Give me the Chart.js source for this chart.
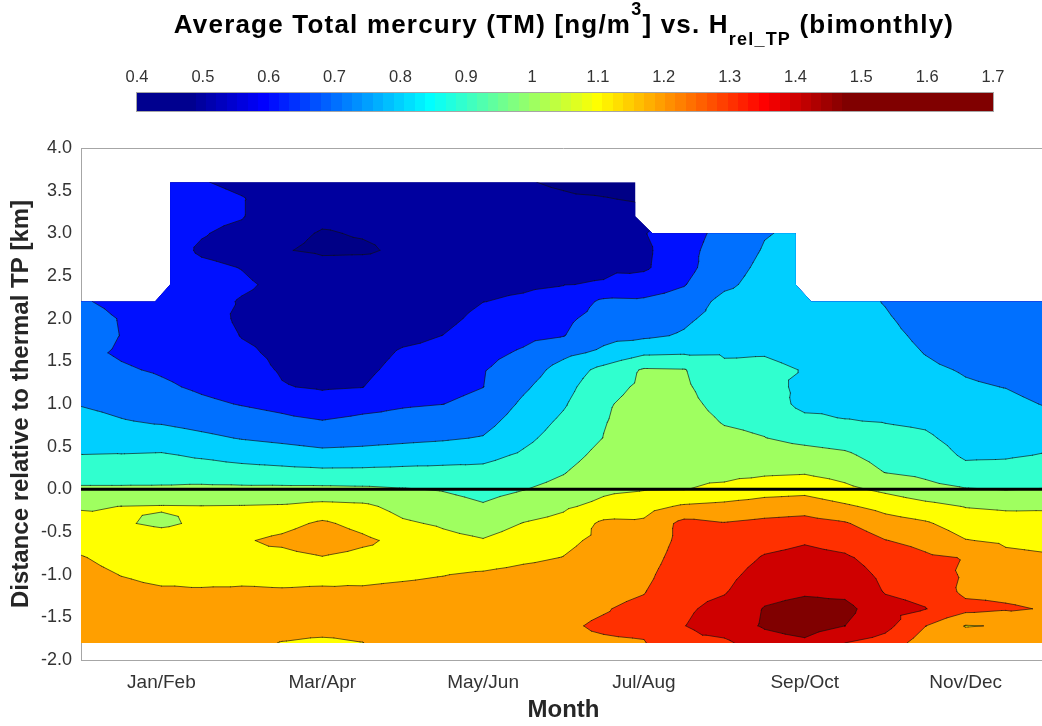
<!DOCTYPE html>
<html>
<head>
<meta charset="utf-8">
<script src="https://cdn.jsdelivr.net/npm/chart.js@4.4.1/dist/chart.umd.min.js"></script>
<style>
  html, body { margin: 0; padding: 0; background: #fff; overflow: hidden; }
  #wrap { position: absolute; left: 0; top: 0; width: 1060px; height: 726px; }
</style>
</head>
<body>
<div id="wrap"><canvas id="c" width="1060" height="726"></canvas></div>
<script>
// bimonthly groups on the x axis (positions 1..6)
const monthLabels = ['Jan/Feb', 'Mar/Apr', 'May/Jun', 'Jul/Aug', 'Sep/Oct', 'Nov/Dec'];
const monthTicks = [1, 2, 3, 4, 5, 6];
const heightTicks = [-2, -1.5, -1, -0.5, 0, 0.5, 1, 1.5, 2, 2.5, 3, 3.5, 4];

// grid: month position (columns) and height relative to thermal TP in km (rows, top to bottom)
const xGrid = [0.5, 0.75, 1, 1.25, 1.5, 1.75, 2, 2.25, 2.5, 2.75, 3, 3.25, 3.5,
               3.75, 4, 4.25, 4.5, 4.75, 5, 5.25, 5.5, 5.75, 6, 6.25, 6.5];
const hGrid = [3.6, 3.4, 3.2, 3.0, 2.8, 2.6, 2.4, 2.2, 2.0, 1.8, 1.6, 1.4, 1.2, 1.0,
               0.8, 0.6, 0.4, 0.2, 0.0, -0.2, -0.4, -0.6, -0.8, -1.0, -1.2, -1.4, -1.6, -1.8];

// average TM [ng/m3], one line per column of xGrid, values from 3.6 km down to -1.8 km
const tmGrid = [
  [0.70,0.70,0.70,0.70,0.70,0.70,0.70,0.71,0.74,0.74,0.72,0.74,0.77,0.795,0.83,0.865,0.902,0.95,1.015,1.09,1.133,1.17,1.205,1.225,1.24,1.25,1.25,1.25],
  [0.66,0.66,0.66,0.66,0.66,0.66,0.66,0.675,0.695,0.698,0.69,0.71,0.745,0.775,0.805,0.84,0.905,0.95,1.015,1.101,1.106,1.14,1.173,1.198,1.22,1.24,1.25,1.25],
  [0.64,0.63,0.63,0.63,0.64,0.64,0.65,0.655,0.66,0.665,0.67,0.69,0.715,0.752,0.789,0.845,0.91,0.955,1.015,1.105,1.09,1.13,1.155,1.18,1.21,1.23,1.245,1.25],
  [0.605,0.63,0.62,0.605,0.59,0.615,0.63,0.625,0.64,0.645,0.65,0.665,0.685,0.719,0.767,0.82,0.887,0.95,1.021,1.103,1.11,1.135,1.16,1.185,1.205,1.225,1.24,1.245],
  [0.58,0.605,0.605,0.58,0.575,0.598,0.61,0.595,0.585,0.597,0.615,0.635,0.66,0.695,0.744,0.795,0.864,0.938,1.02,1.105,1.15,1.19,1.18,1.19,1.205,1.22,1.225,1.215],
  [0.56,0.555,0.54,0.52,0.505,0.57,0.585,0.58,0.575,0.578,0.583,0.592,0.605,0.673,0.722,0.778,0.848,0.93,1.021,1.11,1.17,1.22,1.17,1.19,1.203,1.215,1.22,1.198],
  [0.545,0.53,0.515,0.495,0.487,0.53,0.53,0.535,0.54,0.545,0.555,0.57,0.59,0.64,0.703,0.76,0.829,0.923,1.021,1.13,1.215,1.26,1.195,1.19,1.205,1.215,1.22,1.19],
  [0.54,0.525,0.515,0.505,0.49,0.53,0.525,0.53,0.535,0.545,0.555,0.575,0.598,0.666,0.723,0.77,0.833,0.924,1.017,1.12,1.17,1.22,1.17,1.185,1.208,1.22,1.22,1.199],
  [0.535,0.525,0.52,0.515,0.513,0.525,0.54,0.55,0.56,0.575,0.612,0.635,0.662,0.69,0.731,0.779,0.846,0.928,1.006,1.069,1.113,1.172,1.165,1.19,1.215,1.23,1.235,1.225],
  [0.53,0.525,0.525,0.525,0.53,0.54,0.55,0.56,0.575,0.601,0.626,0.651,0.675,0.699,0.744,0.789,0.858,0.929,0.994,1.042,1.088,1.127,1.162,1.198,1.22,1.235,1.245,1.245],
  [0.54,0.545,0.55,0.555,0.565,0.575,0.585,0.599,0.625,0.65,0.675,0.695,0.699,0.724,0.765,0.806,0.874,0.925,0.967,1.01,1.057,1.106,1.161,1.21,1.23,1.245,1.255,1.26],
  [0.505,0.52,0.535,0.55,0.56,0.575,0.59,0.61,0.647,0.678,0.711,0.747,0.784,0.817,0.848,0.878,0.913,0.955,0.997,1.051,1.103,1.144,1.184,1.225,1.245,1.26,1.27,1.275],
  [0.49,0.51,0.535,0.555,0.57,0.585,0.598,0.63,0.68,0.697,0.775,0.84,0.865,0.89,0.917,0.94,0.964,0.995,1.03,1.086,1.128,1.18,1.202,1.235,1.26,1.28,1.29,1.285],
  [0.47,0.505,0.535,0.56,0.575,0.588,0.605,0.72,0.738,0.772,0.82,0.93,0.97,0.99,0.995,1.002,1.028,1.055,1.081,1.127,1.22,1.222,1.24,1.258,1.276,1.295,1.31,1.29],
  [0.46,0.49,0.54,0.595,0.58,0.585,0.648,0.715,0.749,0.783,0.883,1.01,1.016,1.029,1.042,1.055,1.068,1.082,1.095,1.167,1.215,1.235,1.255,1.276,1.296,1.32,1.32,1.295],
  [0.66,0.66,0.66,0.66,0.67,0.67,0.695,0.739,0.784,0.81,0.89,1.005,1.015,1.028,1.042,1.056,1.069,1.083,1.098,1.213,1.33,1.33,1.345,1.36,1.37,1.385,1.398,1.38],
  [0.73,0.73,0.73,0.73,0.745,0.76,0.78,0.83,0.835,0.863,0.892,0.917,0.943,0.968,0.993,1.02,1.048,1.076,1.118,1.229,1.305,1.327,1.349,1.371,1.393,1.43,1.45,1.38],
  [0.795,0.795,0.795,0.795,0.807,0.822,0.837,0.851,0.866,0.881,0.896,0.915,0.937,0.958,0.98,1.002,1.043,1.084,1.155,1.25,1.322,1.367,1.408,1.44,1.473,1.505,1.51,1.46],
  [0.82,0.82,0.82,0.817,0.83,0.84,0.85,0.85,0.86,0.87,0.88,0.897,0.875,0.87,0.928,0.977,1.032,1.091,1.167,1.259,1.334,1.391,1.427,1.458,1.489,1.53,1.545,1.48],
  [0.84,0.84,0.84,0.84,0.84,0.84,0.84,0.84,0.845,0.85,0.855,0.86,0.87,0.88,0.903,0.96,1.015,1.063,1.123,1.215,1.309,1.366,1.412,1.444,1.475,1.53,1.50,1.40],
  [0.795,0.795,0.795,0.795,0.795,0.795,0.795,0.795,0.811,0.825,0.839,0.854,0.868,0.882,0.896,0.927,0.963,0.998,1.079,1.168,1.242,1.303,1.36,1.38,1.395,1.43,1.43,1.36],
  [0.74,0.74,0.74,0.74,0.74,0.74,0.74,0.74,0.76,0.78,0.797,0.818,0.841,0.864,0.886,0.913,0.945,0.977,1.032,1.13,1.212,1.27,1.315,1.344,1.374,1.403,1.302,1.25],
  [0.74,0.74,0.74,0.74,0.74,0.74,0.74,0.74,0.745,0.75,0.76,0.792,0.811,0.83,0.85,0.869,0.888,0.927,1.006,1.096,1.152,1.204,1.296,1.289,1.28,1.33,1.196,1.25],
  [0.72,0.72,0.72,0.72,0.72,0.72,0.72,0.72,0.73,0.74,0.755,0.775,0.798,0.822,0.844,0.867,0.89,0.934,0.997,1.086,1.14,1.186,1.221,1.251,1.28,1.31,1.205,1.26],
  [0.715,0.715,0.715,0.715,0.715,0.715,0.715,0.715,0.72,0.725,0.735,0.75,0.77,0.795,0.83,0.867,0.905,0.954,1.004,1.088,1.135,1.176,1.21,1.24,1.27,1.295,1.28,1.265]
];

// upper edge of the sampled area (the lower edge is -1.8 km everywhere)
const edgeX   = [0.5, 0.96, 1.054, 1.054, 3.946, 3.946, 4.053, 4.944, 4.944, 5.04, 6.5];
const edgeTop = [2.2, 2.2, 2.4, 3.6, 3.6, 3.2, 3.0, 3.0, 2.4, 2.2, 2.2];
const edgeBottom = -1.8;

// thermal tropopause line
const tpX = [0.5, 6.5];
const tpY = [0, 0];

// contour levels and colour bar
const levels = [0.5, 0.6, 0.7, 0.8, 0.9, 1.0, 1.1, 1.2, 1.3, 1.4, 1.5];
const cbTicks = [0.4, 0.5, 0.6, 0.7, 0.8, 0.9, 1, 1.1, 1.2, 1.3, 1.4, 1.5, 1.6, 1.7];
const cbMin = 0.4, cbMax = 1.7;
const jetLo = 0.473, jetHi = 1.487;   // part of the colour bar that runs through jet

// matlab jet(64), k = 1..64
function jet64(k) {
  let r, g, b;
  b = k <= 8 ? 0.5 + k / 16 : k <= 24 ? 1 : k <= 40 ? 1 - (k - 24) / 16 : 0;
  g = k <= 8 ? 0 : k <= 24 ? (k - 8) / 16 : k <= 40 ? 1 : k <= 56 ? 1 - (k - 40) / 16 : 0;
  r = k <= 24 ? 0 : k <= 40 ? (k - 24) / 16 : k <= 56 ? 1 : 1 - (k - 56) / 16;
  return 'rgb(' + Math.round(r * 255) + ',' + Math.round(g * 255) + ',' + Math.round(b * 255) + ')';
}
function colorFor(v) {
  let k = Math.floor((v - jetLo) / (jetHi - jetLo) * 64) + 1;
  k = Math.max(1, Math.min(64, k));
  return jet64(k);
}
const bandColors = ['#000086'].concat(levels.map(colorFor));

// part of a triangle where value >= lv
function clipAbove(poly, lv) {
  const out = [];
  for (let i = 0; i < poly.length; i++) {
    const a = poly[i], b = poly[(i + 1) % poly.length];
    const ina = a.z >= lv, inb = b.z >= lv;
    if (ina) out.push(a);
    if (ina !== inb) {
      const f = (lv - a.z) / (b.z - a.z);
      out.push({ x: a.x + f * (b.x - a.x), y: a.y + f * (b.y - a.y), z: lv });
    }
  }
  return out;
}

const FONT = '"Liberation Sans", Arial, sans-serif';

const contourPlugin = {
  id: 'contourf',
  beforeDatasetsDraw(chart) {
    const ctx = chart.ctx, xs = chart.scales.x, ys = chart.scales.y;
    const px = xGrid.map(v => xs.getPixelForValue(v));
    const py = hGrid.map(v => ys.getPixelForValue(v));
    const tris = [];
    for (let i = 0; i < xGrid.length - 1; i++) {
      for (let j = 0; j < hGrid.length - 1; j++) {
        const a = { x: px[i], y: py[j], z: tmGrid[i][j] };
        const b = { x: px[i + 1], y: py[j], z: tmGrid[i + 1][j] };
        const c = { x: px[i + 1], y: py[j + 1], z: tmGrid[i + 1][j + 1] };
        const d = { x: px[i], y: py[j + 1], z: tmGrid[i][j + 1] };
        const m = { x: (a.x + b.x) / 2, y: (a.y + d.y) / 2, z: (a.z + b.z + c.z + d.z) / 4 };
        tris.push([a, b, m], [b, c, m], [c, d, m], [d, a, m]);
      }
    }
    ctx.save();
    // only where there is data
    ctx.beginPath();
    edgeX.forEach((x, k) => {
      const X = xs.getPixelForValue(x), Y = ys.getPixelForValue(edgeTop[k]);
      if (k === 0) ctx.moveTo(X, Y); else ctx.lineTo(X, Y);
    });
    ctx.lineTo(xs.getPixelForValue(edgeX[edgeX.length - 1]), ys.getPixelForValue(edgeBottom));
    ctx.lineTo(xs.getPixelForValue(edgeX[0]), ys.getPixelForValue(edgeBottom));
    ctx.closePath();
    ctx.clip();

    ctx.fillStyle = bandColors[0];
    ctx.fillRect(px[0], py[0], px[px.length - 1] - px[0], py[py.length - 1] - py[0]);
    levels.forEach((lv, k) => {
      ctx.beginPath();
      tris.forEach(t => {
        const p = clipAbove(t, lv);
        if (p.length < 3) return;
        ctx.moveTo(p[0].x, p[0].y);
        for (let q = 1; q < p.length; q++) ctx.lineTo(p[q].x, p[q].y);
        ctx.closePath();
      });
      ctx.fillStyle = bandColors[k + 1];
      ctx.fill();
    });

    // contour lines
    ctx.beginPath();
    levels.forEach(lv => {
      tris.forEach(t => {
        const pts = [];
        for (let e = 0; e < 3; e++) {
          const a = t[e], b = t[(e + 1) % 3];
          if ((a.z >= lv) !== (b.z >= lv)) {
            const f = (lv - a.z) / (b.z - a.z);
            pts.push([a.x + f * (b.x - a.x), a.y + f * (b.y - a.y)]);
          }
        }
        if (pts.length === 2) {
          ctx.moveTo(pts[0][0], pts[0][1]);
          ctx.lineTo(pts[1][0], pts[1][1]);
        }
      });
    });
    ctx.strokeStyle = 'rgba(15,15,15,0.85)';
    ctx.lineWidth = 0.75;
    ctx.lineCap = 'round';
    ctx.stroke();
    ctx.restore();
  },
  afterDraw(chart) {
    const ctx = chart.ctx, area = chart.chartArea;
    ctx.save();
    // top edge of the axes box
    ctx.strokeStyle = '#a6a6a6';
    ctx.lineWidth = 1;
    ctx.beginPath();
    ctx.moveTo(area.left, area.top + 0.5);
    ctx.lineTo(area.right, area.top + 0.5);
    ctx.stroke();

    // title with superscript and subscript
    const parts = [
      { t: 'Average Total mercury (TM) [ng/m', size: 26, dy: 0 },
      { t: '3', size: 18, dy: -18 },
      { t: '] vs. H', size: 26, dy: 0 },
      { t: 'rel_TP', size: 18, dy: 12 },
      { t: ' (bimonthly)', size: 26, dy: 0 }
    ];
    ctx.letterSpacing = '1.2px';
    let total = 0;
    parts.forEach(p => { ctx.font = 'bold ' + p.size + 'px ' + FONT; p.w = ctx.measureText(p.t).width; total += p.w; });
    let x = 564 - total / 2;
    ctx.fillStyle = '#000';
    ctx.textBaseline = 'alphabetic';
    ctx.textAlign = 'left';
    parts.forEach(p => {
      ctx.font = 'bold ' + p.size + 'px ' + FONT;
      ctx.fillText(p.t, x, 33 + p.dy);
      x += p.w;
    });
    ctx.letterSpacing = '0px';

    // colour bar
    const cbL = 137, cbR = 993, cbT = 93, cbB = 111;
    for (let X = cbL; X < cbR; X++) {
      const v = cbMin + (X + 0.5 - cbL) / (cbR - cbL) * (cbMax - cbMin);
      ctx.fillStyle = colorFor(v);
      ctx.fillRect(X, cbT, 1, cbB - cbT);
    }
    ctx.strokeStyle = '#a6a6a6';
    ctx.strokeRect(cbL - 0.5, cbT - 0.5, cbR - cbL + 1, cbB - cbT + 1);
    ctx.fillStyle = '#333';
    ctx.font = '16.5px ' + FONT;
    ctx.textAlign = 'center';
    ctx.textBaseline = 'middle';
    cbTicks.forEach(v => {
      const X = cbL + (v - cbMin) / (cbMax - cbMin) * (cbR - cbL);
      ctx.fillText(String(v), X, 77);
    });
    ctx.restore();
  }
};

new Chart(document.getElementById('c'), {
  type: 'scatter',
  data: {
    datasets: [{
      data: tpX.map((x, i) => ({ x: x, y: tpY[i] })),
      showLine: true,
      borderColor: '#000',
      borderWidth: 3,
      pointRadius: 0
    }]
  },
  options: {
    responsive: false,
    animation: false,
    devicePixelRatio: 1,
    layout: { autoPadding: false, padding: { top: 148, left: 0, right: 14, bottom: 0 } },
    plugins: { legend: { display: false }, tooltip: { enabled: false } },
    scales: {
      x: {
        type: 'linear', min: 0.5, max: 6.5,
        afterBuildTicks: s => { s.ticks = monthTicks.map(v => ({ value: v })); },
        afterFit: s => { s.height = 66; },
        ticks: {
          callback: v => monthLabels[monthTicks.indexOf(v)],
          font: { family: FONT, size: 19 }, color: '#333', padding: 11,
          maxRotation: 0, autoSkip: false
        },
        grid: { display: false, drawTicks: false },
        border: { display: true, color: '#a6a6a6', width: 1 },
        title: {
          display: true, text: 'Month', color: '#262626',
          font: { family: FONT, size: 24, weight: 'bold' }, padding: { top: 0, bottom: 1 }
        }
      },
      y: {
        type: 'linear', min: -2, max: 4,
        afterBuildTicks: s => { s.ticks = heightTicks.map(v => ({ value: v })); },
        afterFit: s => { s.width = 81; },
        ticks: {
          callback: v => v.toFixed(1),
          font: { family: FONT, size: 18 }, color: '#333', padding: 9
        },
        grid: { display: false, drawTicks: false },
        border: { display: true, color: '#a6a6a6', width: 1 },
        title: {
          display: true, text: 'Distance relative to thermal TP [km]', color: '#262626',
          font: { family: FONT, size: 24, weight: 'bold' }, padding: { top: 7, bottom: 0 }
        }
      }
    }
  },
  plugins: [contourPlugin]
});
</script>
</body>
</html>
